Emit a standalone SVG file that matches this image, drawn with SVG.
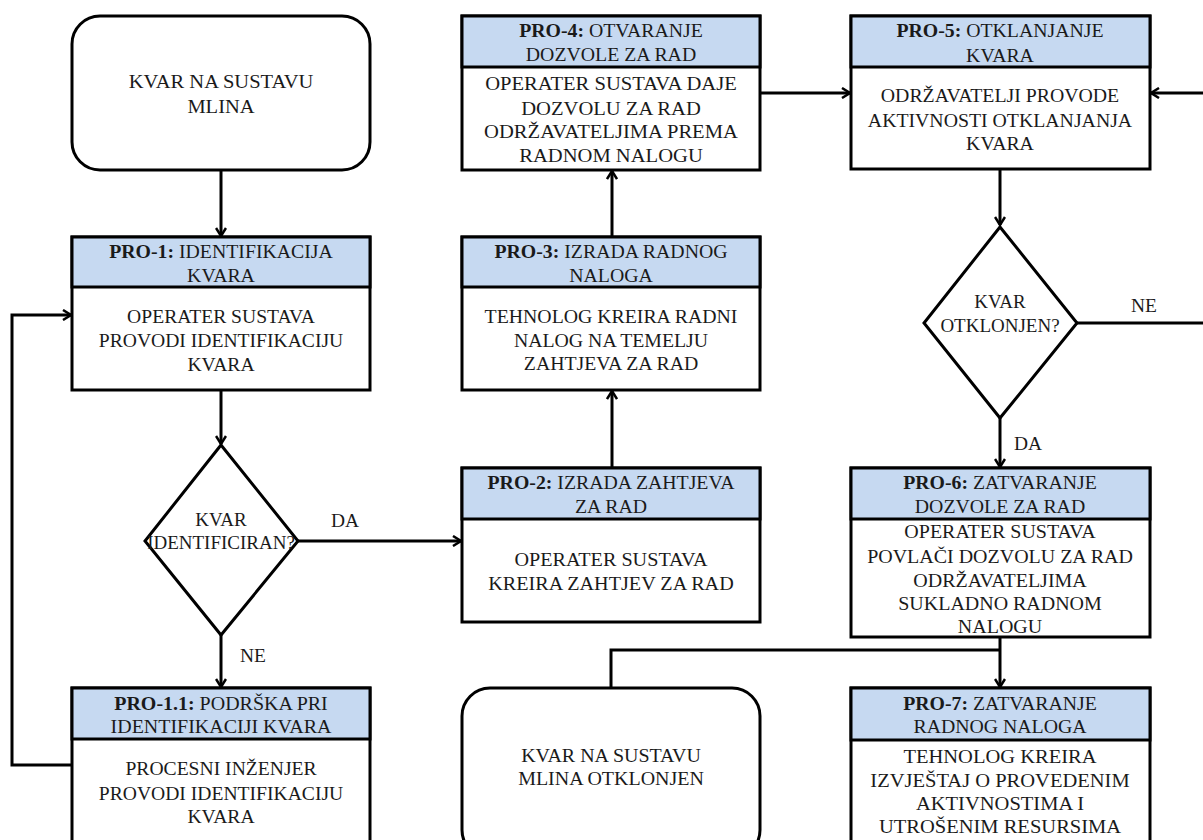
<svg xmlns="http://www.w3.org/2000/svg" width="1203" height="840" viewBox="0 0 1203 840">
<style>
.box{fill:#fff;stroke:#000;stroke-width:3}
.hdr{fill:#c6d9f1;stroke:#000;stroke-width:3}
.t{font-family:"Liberation Serif","Times New Roman",serif;font-size:18px;fill:#1a1a1a;text-anchor:middle}
.b{font-weight:bold}
.c{fill:none;stroke:#000;stroke-width:3}
.a{marker-end:url(#ah)}
</style>
<defs>
<marker id="ah" viewBox="0 0 12 12" refX="10" refY="6" markerWidth="12" markerHeight="12" markerUnits="userSpaceOnUse" orient="auto">
<path d="M2,1 L10,6 L2,11" fill="none" stroke="#000" stroke-width="2.5"/>
</marker>
</defs>
<rect width="1203" height="840" fill="#fff"/>

<g id="connectors">
<path class="c a" d="M221,170 V236"/>
<path class="c a" d="M221,390 V444"/>
<path class="c" d="M298,541 H440"/>
<path class="c a" d="M440,541 H461"/>
<path class="c a" d="M221,635 V687"/>
<path class="c a" d="M72,765 H12 V315 H71"/>
<path class="c a" d="M612,468 V391"/>
<path class="c a" d="M612,237 V171"/>
<path class="c a" d="M760,93 H850"/>
<path class="c a" d="M1000,169 V225"/>
<path class="c" d="M1077,323 H1203"/>
<path class="c a" d="M1203,93 H1151"/>
<path class="c a" d="M1000,418 V467"/>
<path class="c a" d="M1000,637 V687"/>
<path class="c" d="M1000,650 H611 V688"/>
</g>
<g id="labels">
<text class="t" transform="translate(345,527) scale(1.08,1)">DA</text>
<text class="t" transform="translate(253,662) scale(1.08,1)">NE</text>
<text class="t" transform="translate(1144,312) scale(1.08,1)">NE</text>
<text class="t" transform="translate(1028,450) scale(1.08,1)">DA</text>
</g>

<g id="start">
<rect class="box" x="72" y="16" width="298" height="154" rx="28"/>
<text class="t" transform="translate(221,88) scale(1.14,1)">KVAR NA SUSTAVU</text>
<text class="t" transform="translate(221,113) scale(1.14,1)">MLINA</text>
</g>

<g id="pro1">
<rect class="box" x="72" y="237" width="298" height="153"/>
<rect class="hdr" x="72" y="237" width="298" height="50"/>
<text class="t" transform="translate(221,258) scale(1.1,1)"><tspan class="b">PRO-1:</tspan> IDENTIFIKACIJA</text>
<text class="t" transform="translate(221,282) scale(1.1,1)">KVARA</text>
<text class="t" transform="translate(221,323) scale(1.09,1)">OPERATER SUSTAVA</text>
<text class="t" transform="translate(221,347) scale(1.09,1)">PROVODI IDENTIFIKACIJU</text>
<text class="t" transform="translate(221,371) scale(1.09,1)">KVARA</text>
</g>

<g id="dec1">
<polygon class="box" points="221,445 298,541 221,635 145,541"/>
<text class="t" transform="translate(221,526) scale(1.055,1)">KVAR</text>
<text class="t" transform="translate(221,549) scale(1.055,1)">IDENTIFICIRAN?</text>
</g>

<g id="pro11">
<rect class="box" x="72" y="688" width="298" height="165"/>
<rect class="hdr" x="72" y="688" width="298" height="51"/>
<text class="t" transform="translate(221,710) scale(1.11,1)"><tspan class="b">PRO-1.1:</tspan> PODRŠKA PRI</text>
<text class="t" transform="translate(221,733) scale(1.11,1)">IDENTIFIKACIJI KVARA</text>
<text class="t" transform="translate(221,775) scale(1.09,1)">PROCESNI INŽENJER</text>
<text class="t" transform="translate(221,800) scale(1.09,1)">PROVODI IDENTIFIKACIJU</text>
<text class="t" transform="translate(221,823) scale(1.09,1)">KVARA</text>
</g>

<g id="pro4">
<rect class="box" x="462" y="16" width="298" height="154"/>
<rect class="hdr" x="462" y="16" width="298" height="51"/>
<text class="t" transform="translate(611,37) scale(1.1,1)"><tspan class="b">PRO-4:</tspan> OTVARANJE</text>
<text class="t" transform="translate(611,61) scale(1.1,1)">DOZVOLE ZA RAD</text>
<text class="t" transform="translate(611,90) scale(1.145,1)">OPERATER SUSTAVA DAJE</text>
<text class="t" transform="translate(611,115) scale(1.145,1)">DOZVOLU ZA RAD</text>
<text class="t" transform="translate(611,138) scale(1.145,1)">ODRŽAVATELJIMA PREMA</text>
<text class="t" transform="translate(611,162) scale(1.145,1)">RADNOM NALOGU</text>
</g>

<g id="pro3">
<rect class="box" x="462" y="237" width="298" height="153"/>
<rect class="hdr" x="462" y="237" width="298" height="50"/>
<text class="t" transform="translate(611,258) scale(1.1,1)"><tspan class="b">PRO-3:</tspan> IZRADA RADNOG</text>
<text class="t" transform="translate(611,282) scale(1.1,1)">NALOGA</text>
<text class="t" transform="translate(611,323) scale(1.1,1)">TEHNOLOG KREIRA RADNI</text>
<text class="t" transform="translate(611,347) scale(1.1,1)">NALOG NA TEMELJU</text>
<text class="t" transform="translate(611,370) scale(1.1,1)">ZAHTJEVA ZA RAD</text>
</g>

<g id="pro2">
<rect class="box" x="462" y="468" width="298" height="154"/>
<rect class="hdr" x="462" y="468" width="298" height="51"/>
<text class="t" transform="translate(611,489) scale(1.1,1)"><tspan class="b">PRO-2:</tspan> IZRADA ZAHTJEVA</text>
<text class="t" transform="translate(611,513) scale(1.1,1)">ZA RAD</text>
<text class="t" transform="translate(611,566) scale(1.12,1)">OPERATER SUSTAVA</text>
<text class="t" transform="translate(611,590) scale(1.12,1)">KREIRA ZAHTJEV ZA RAD</text>
</g>

<g id="end">
<rect class="box" x="462" y="688" width="298" height="170" rx="28"/>
<text class="t" transform="translate(611,762) scale(1.11,1)">KVAR NA SUSTAVU</text>
<text class="t" transform="translate(611,785) scale(1.11,1)">MLINA OTKLONJEN</text>
</g>

<g id="pro5">
<rect class="box" x="851" y="16" width="299" height="153"/>
<rect class="hdr" x="851" y="16" width="299" height="51"/>
<text class="t" transform="translate(1000,37) scale(1.1,1)"><tspan class="b">PRO-5:</tspan> OTKLANJANJE</text>
<text class="t" transform="translate(1000,62) scale(1.1,1)">KVARA</text>
<text class="t" transform="translate(1000,102) scale(1.1,1)">ODRŽAVATELJI PROVODE</text>
<text class="t" transform="translate(1000,127) scale(1.1,1)">AKTIVNOSTI OTKLANJANJA</text>
<text class="t" transform="translate(1000,150) scale(1.1,1)">KVARA</text>
</g>

<g id="dec2">
<polygon class="box" points="1000,227 1077,323 1000,418 924,323"/>
<text class="t" transform="translate(1000,308) scale(1.055,1)">KVAR</text>
<text class="t" transform="translate(1000,332) scale(1.055,1)">OTKLONJEN?</text>
</g>

<g id="pro6">
<rect class="box" x="851" y="468" width="299" height="169"/>
<rect class="hdr" x="851" y="468" width="299" height="51"/>
<text class="t" transform="translate(1000,489) scale(1.1,1)"><tspan class="b">PRO-6:</tspan> ZATVARANJE</text>
<text class="t" transform="translate(1000,513) scale(1.1,1)">DOZVOLE ZA RAD</text>
<text class="t" transform="translate(1000,538) scale(1.11,1)">OPERATER SUSTAVA</text>
<text class="t" transform="translate(1000,563) scale(1.11,1)">POVLAČI DOZVOLU ZA RAD</text>
<text class="t" transform="translate(1000,587) scale(1.11,1)">ODRŽAVATELJIMA</text>
<text class="t" transform="translate(1000,610) scale(1.11,1)">SUKLADNO RADNOM</text>
<text class="t" transform="translate(1000,633) scale(1.11,1)">NALOGU</text>
</g>

<g id="pro7">
<rect class="box" x="851" y="688" width="299" height="170"/>
<rect class="hdr" x="851" y="688" width="299" height="52"/>
<text class="t" transform="translate(1000,710) scale(1.1,1)"><tspan class="b">PRO-7:</tspan> ZATVARANJE</text>
<text class="t" transform="translate(1000,733) scale(1.1,1)">RADNOG NALOGA</text>
<text class="t" transform="translate(1000,763) scale(1.14,1)">TEHNOLOG KREIRA</text>
<text class="t" transform="translate(1000,787) scale(1.14,1)">IZVJEŠTAJ O PROVEDENIM</text>
<text class="t" transform="translate(1000,810) scale(1.14,1)">AKTIVNOSTIMA I</text>
<text class="t" transform="translate(1000,833) scale(1.14,1)">UTROŠENIM RESURSIMA</text>
</g>
</svg>
